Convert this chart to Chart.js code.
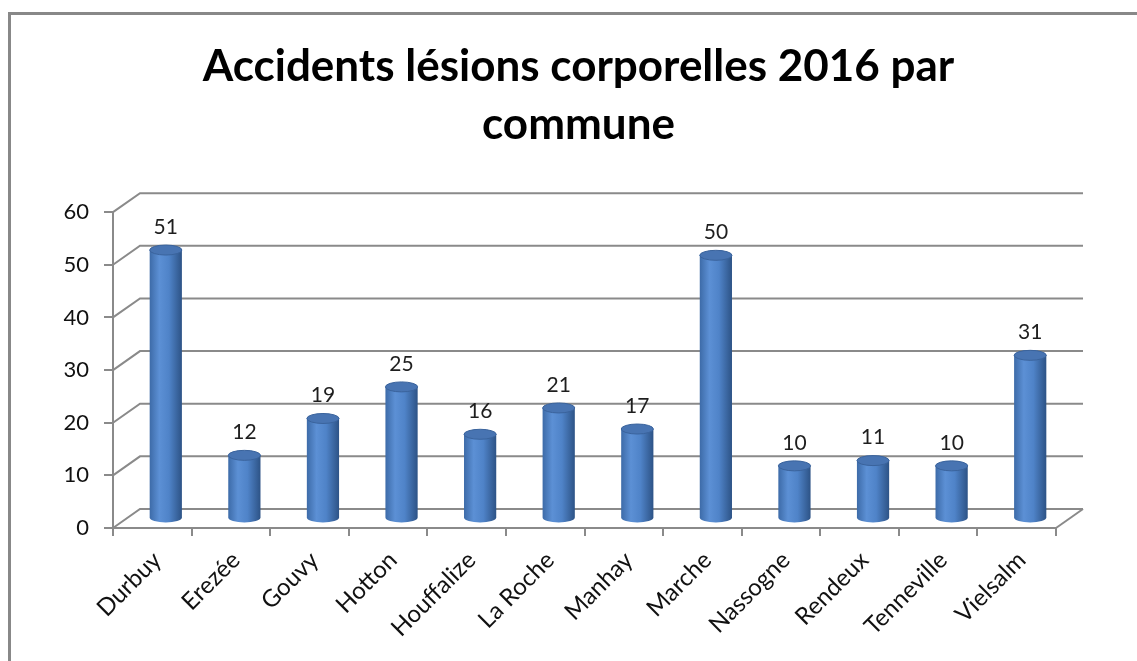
<!DOCTYPE html>
<html>
<head>
<meta charset="utf-8">
<script src="https://cdn.jsdelivr.net/npm/chart.js@4.4.0/dist/chart.umd.min.js"></script>
<style>
  html, body { margin: 0; padding: 0; background: #fff; }
  #wrap { width: 1137px; height: 661px; position: relative; }
</style>
</head>
<body>
<div id="wrap"><canvas id="chart" width="1137" height="661"></canvas></div>
<script>
const communes = ['Durbuy', 'Erezée', 'Gouvy', 'Hotton', 'Houffalize', 'La Roche',
  'Manhay', 'Marche', 'Nassogne', 'Rendeux', 'Tenneville', 'Vielsalm'];
const accidents = [51, 12, 19, 25, 16, 21, 17, 50, 10, 11, 10, 31];
const titleLines = ['Accidents lésions corporelles 2016 par', 'commune'];
const yTicks = [0, 10, 20, 30, 40, 50, 60];

const axisGrey = '#8a8a8a';
const depth = { dx: 27, dy: -19 }; // back wall offset

// outer frame of the excel chart
const framePlugin = {
  id: 'frame',
  beforeDraw(chart) {
    const ctx = chart.ctx;
    ctx.save();
    ctx.strokeStyle = '#888';
    ctx.lineWidth = 3;
    ctx.beginPath();
    ctx.moveTo(9.5, chart.height);
    ctx.lineTo(9.5, 13.5);
    ctx.lineTo(chart.width, 13.5);
    ctx.stroke();
    ctx.restore();
  }
};

// back wall gridlines + floor diagonals
const wallPlugin = {
  id: 'wall',
  beforeDatasetsDraw(chart) {
    const { ctx, chartArea } = chart;
    const y = chart.scales.y;
    ctx.save();
    ctx.strokeStyle = axisGrey;
    ctx.lineWidth = 2;
    yTicks.forEach(v => {
      const py = y.getPixelForValue(v);
      ctx.beginPath();
      ctx.moveTo(chartArea.left, py);
      ctx.lineTo(chartArea.left + depth.dx, py + depth.dy);
      ctx.lineTo(chartArea.right + depth.dx, py + depth.dy);
      ctx.stroke();
    });
    const py0 = y.getPixelForValue(0);
    ctx.beginPath();
    ctx.moveTo(chartArea.right, py0);
    ctx.lineTo(chartArea.right + depth.dx, py0 + depth.dy);
    ctx.stroke();
    ctx.restore();
  }
};

// cylinders drawn on the bar elements, half way in depth
const cylinderPlugin = {
  id: 'cylinders',
  afterDatasetsDraw(chart) {
    const ctx = chart.ctx;
    const meta = chart.getDatasetMeta(0);
    const ox = depth.dx / 2, oy = depth.dy / 2;
    ctx.save();
    meta.data.forEach((bar, i) => {
      const p = bar.getProps(['x', 'y', 'base', 'width'], true);
      const cx = p.x + ox;
      const top = p.y + oy;
      const bottom = p.base + oy;
      const rx = p.width / 2;
      const ry = 5;

      const g = ctx.createLinearGradient(cx - rx, 0, cx + rx, 0);
      g.addColorStop(0, '#3d6ba8');
      g.addColorStop(0.3, '#5c90d5');
      g.addColorStop(0.6, '#4f83c8');
      g.addColorStop(1, '#2d5386');
      ctx.fillStyle = g;
      ctx.beginPath();
      ctx.moveTo(cx - rx, top);
      ctx.lineTo(cx - rx, bottom);
      ctx.ellipse(cx, bottom, rx, ry, 0, Math.PI, 0, true);
      ctx.lineTo(cx + rx, top);
      ctx.closePath();
      ctx.fill();

      ctx.fillStyle = '#4874b2';
      ctx.strokeStyle = '#3a639c';
      ctx.lineWidth = 1;
      ctx.beginPath();
      ctx.ellipse(cx, top, rx, ry, 0, 0, Math.PI * 2);
      ctx.fill();
      ctx.stroke();

      ctx.fillStyle = '#1e1e1e';
      ctx.font = '21px Lato';
      ctx.textAlign = 'center';
      ctx.textBaseline = 'middle';
      ctx.fillText(String(accidents[i]), cx, top - 23);
    });
    ctx.restore();
  }
};

new Chart(document.getElementById('chart'), {
  type: 'bar',
  data: {
    labels: communes,
    datasets: [{
      data: accidents,
      backgroundColor: 'rgba(0,0,0,0)',
      borderWidth: 0,
      categoryPercentage: 1,
      barPercentage: 0.41
    }]
  },
  options: {
    responsive: false,
    animation: false,
    layout: { padding: { left: 20, right: 0, top: 0, bottom: 0 } },
    plugins: {
      legend: { display: false },
      tooltip: { enabled: false },
      title: {
        display: true,
        text: titleLines,
        color: '#000',
        font: { family: 'Lato', size: 44, weight: 'bold', lineHeight: 1.32 },
        padding: { top: 38, bottom: 58 }
      }
    },
    scales: {
      x: {
        grid: { drawOnChartArea: false, drawTicks: true, tickLength: 8, color: axisGrey, lineWidth: 2 },
        border: { display: true, color: axisGrey, width: 2 },
        ticks: { color: '#111', font: { family: 'Lato', size: 24 }, minRotation: 45, maxRotation: 45, padding: 10, labelOffset: 5 },
        afterFit(s) { s.height = 133; }
      },
      y: {
        min: 0,
        max: 60,
        ticks: { stepSize: 10, color: '#111', font: { family: 'Lato', size: 22 }, padding: 15 },
        grid: { drawOnChartArea: false, drawTicks: true, tickLength: 9, color: axisGrey, lineWidth: 2 },
        border: { display: true, color: axisGrey, width: 2 },
        afterFit(s) { s.width = 93; }
      },
      yRight: {
        position: 'right',
        display: true,
        ticks: { display: false },
        grid: { display: false },
        border: { display: false },
        afterFit(s) { s.width = 81; }
      }
    }
  },
  plugins: [framePlugin, wallPlugin, cylinderPlugin]
});
</script>
</body>
</html>
